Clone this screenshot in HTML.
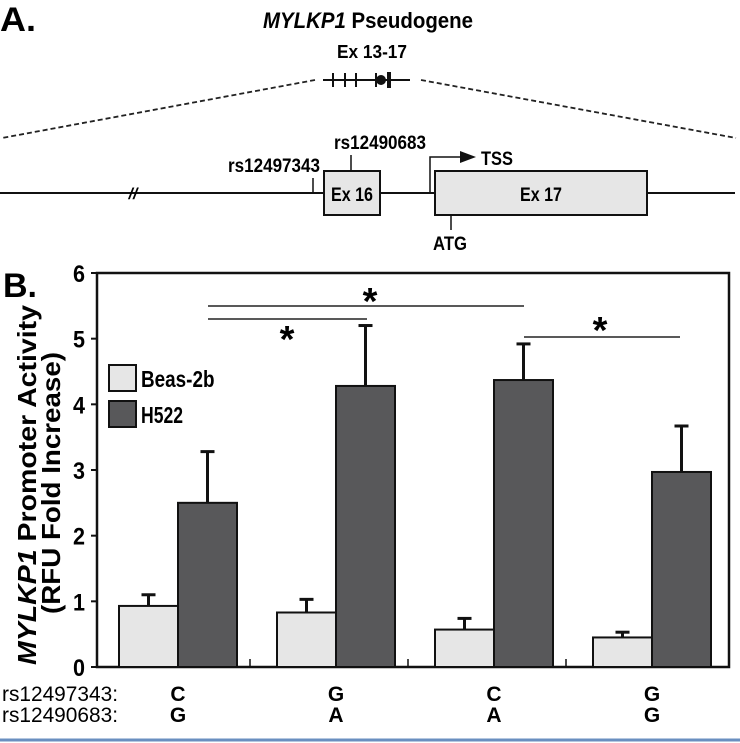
<!DOCTYPE html>
<html><head><meta charset="utf-8"><style>
html,body{margin:0;padding:0;background:#fff;}
svg{display:block;font-family:"Liberation Sans",Arial,sans-serif;font-weight:bold;}
</style></head><body>
<svg id="fig" width="740" height="743" viewBox="0 0 740 743" xmlns="http://www.w3.org/2000/svg">
<g>
<text x="0" y="31" font-size="34" textLength="36" lengthAdjust="spacingAndGlyphs">A.</text>
<text x="368" y="28" font-size="22" text-anchor="middle" textLength="210" lengthAdjust="spacingAndGlyphs"><tspan font-style="italic">MYLKP1</tspan> Pseudogene</text>
<text x="372" y="58" font-size="18" text-anchor="middle" textLength="70" lengthAdjust="spacingAndGlyphs">Ex 13-17</text>
<g stroke="#111" stroke-width="2">
<line x1="323" y1="80" x2="410" y2="80"/>
<line x1="333" y1="73" x2="333" y2="87"/><line x1="345" y1="73" x2="345" y2="87"/><line x1="356" y1="73" x2="356" y2="87"/>
<line x1="376" y1="73" x2="376" y2="87"/><line x1="389" y1="72" x2="389" y2="88" stroke-width="4"/>
</g>
<circle cx="381" cy="80" r="5" fill="#111"/>
<g stroke="#222" stroke-width="1.8" stroke-dasharray="5,3" fill="none">
<line x1="315" y1="80" x2="2" y2="138"/><line x1="421" y1="80" x2="736" y2="138"/>
</g>
<line x1="0" y1="193" x2="735" y2="193" stroke="#111" stroke-width="2"/>
<text x="133" y="199" font-size="16" font-style="italic" text-anchor="middle">//</text>
<rect x="324" y="171" width="56" height="44" fill="#e6e6e6" stroke="#111" stroke-width="2"/>
<text x="352" y="201" font-size="19" text-anchor="middle" textLength="42" lengthAdjust="spacingAndGlyphs">Ex 16</text>
<rect x="435" y="171" width="212" height="44" fill="#e6e6e6" stroke="#111" stroke-width="2"/>
<text x="541" y="201" font-size="19" text-anchor="middle" textLength="42" lengthAdjust="spacingAndGlyphs">Ex 17</text>
<line x1="313" y1="178" x2="313" y2="193" stroke="#111" stroke-width="1.5"/>
<text x="320" y="172" font-size="19" text-anchor="end" textLength="92" lengthAdjust="spacingAndGlyphs">rs12497343</text>
<line x1="351" y1="155" x2="351" y2="171" stroke="#111" stroke-width="1.5"/>
<text x="380" y="149" font-size="19" text-anchor="middle" textLength="92" lengthAdjust="spacingAndGlyphs">rs12490683</text>
<path d="M430 193 V157 H463" fill="none" stroke="#111" stroke-width="1.5"/>
<path d="M460 151 L476 157 L460 163 Z" fill="#111"/>
<text x="481" y="165" font-size="19" textLength="32" lengthAdjust="spacingAndGlyphs">TSS</text>
<line x1="451" y1="215" x2="451" y2="230" stroke="#111" stroke-width="1.5"/>
<text x="450" y="250" font-size="19" text-anchor="middle" textLength="34" lengthAdjust="spacingAndGlyphs">ATG</text>
</g>
<text x="3" y="297" font-size="34" textLength="34" lengthAdjust="spacingAndGlyphs">B.</text>
<g id="chart"></g>
<line x1="0" y1="740" x2="740" y2="740" stroke="#6a8fc0" stroke-width="3"/>
</svg>
<script>
const categories = ["C/G","G/A","C/A","G/G"];
const snp1 = ["C","G","C","G"];
const snp2 = ["G","A","A","G"];
const beasValues = [0.93,0.83,0.57,0.45];
const beasErrors = [0.17,0.20,0.17,0.08];
const h522Values = [2.5,4.28,4.37,2.97];
const h522Errors = [0.78,0.92,0.55,0.7];
const yTicks = [0,1,2,3,4,5,6];
const NS="http://www.w3.org/2000/svg";
const g=document.getElementById('chart');
const X0=97,X1=729,Y0=667,Y6=273;
function y(v){return Y0-(v/6)*(Y0-Y6);}
const pitch=(X1-X0)/4;
function gc(i){return X0+81+i*pitch;}
const bw=59;
function mk(tag,attrs){const e=document.createElementNS(NS,tag);for(const k in attrs)e.setAttribute(k,attrs[k]);g.appendChild(e);return e;}
let fr=mk('rect',{x:X0,y:Y6,width:X1-X0,height:Y0-Y6,fill:'none',stroke:'#111','stroke-width':2.5});


yTicks.forEach(t=>{
  const l=mk('line',{x1:X0-6,x2:X0,y1:y(t),y2:y(t),stroke:'#111','stroke-width':2});
  
  
  const tx=mk('text',{x:X0-12,y:y(t)+9,'font-size':24,'text-anchor':'end',textLength:12,lengthAdjust:'spacingAndGlyphs'});
  tx.textContent=t;
  
  
});
for(let i=1;i<4;i++){const xs=X0+i*pitch-5;mk('line',{x1:xs,x2:xs,y1:Y0,y2:Y0-8,stroke:'#111','stroke-width':1.5});}
function bar(x,v,e,fill,name){
  const top=y(v+e), cx=x+bw/2;
  const el=mk('line',{x1:cx,x2:cx,y1:y(v),y2:top,stroke:'#111','stroke-width':3});
  
  
  mk('line',{x1:cx-7,x2:cx+7,y1:top,y2:top,stroke:'#111','stroke-width':3});
  const r=mk('rect',{x:x,y:y(v),width:bw,height:Y0-y(v),fill:fill,stroke:'#111','stroke-width':2});
  
  
}
categories.forEach((c,i)=>{
  bar(gc(i)-bw,beasValues[i],beasErrors[i],'#e6e6e6','bar-beas2b-'+(i+1));
  bar(gc(i),h522Values[i],h522Errors[i],'#58585a','bar-h522-'+(i+1));
  const a=mk('text',{x:gc(i),y:701,'font-size':21,'text-anchor':'middle'});a.textContent=snp1[i];
  
  
  const b=mk('text',{x:gc(i),y:722,'font-size':21,'text-anchor':'middle'});b.textContent=snp2[i];
  
  
});
[["rs12497343:",701],["rs12490683:",722]].forEach(([t,yy])=>{const e=mk('text',{x:2,y:yy,'font-size':21,'font-weight':'normal',textLength:116,lengthAdjust:'spacingAndGlyphs'});e.textContent=t;
  
  });
// significance
[[208,524,306,370,314],[208,367,319,287,352],[524,680,337,600,343]].forEach(([a,b,yy,sx,sy])=>{
  const l=mk('line',{x1:a,x2:b,y1:yy,y2:yy,stroke:'#222','stroke-width':1.5});
  
  
  const s=mk('text',{x:sx,y:sy,'font-size':38,'text-anchor':'middle'});s.textContent='*';
  
  
});
// legend
[["Beas-2b",'#e6e6e6',365],["H522",'#58585a',401]].forEach(([t,f,yy])=>{
  const r=mk('rect',{x:109,y:yy,width:27,height:26,fill:f,stroke:'#111','stroke-width':2});
  
  
  const tx=mk('text',{x:141,y:yy+22,'font-size':23,textLength:t.length*10.5,lengthAdjust:'spacingAndGlyphs'});tx.textContent=t;
  
  
});
// y title
const t1=mk('text',{x:0,y:0,'font-size':26,'text-anchor':'middle',transform:'translate(36,485) rotate(-90)',textLength:360,lengthAdjust:'spacingAndGlyphs'});
t1.innerHTML='<tspan font-style="italic">MYLKP1</tspan> Promoter Activity';


const t2=mk('text',{x:0,y:0,'font-size':26,'text-anchor':'middle',transform:'translate(60,483) rotate(-90)',textLength:262,lengthAdjust:'spacingAndGlyphs'});
t2.textContent='(RFU Fold Increase)';


</script>
</body></html>
